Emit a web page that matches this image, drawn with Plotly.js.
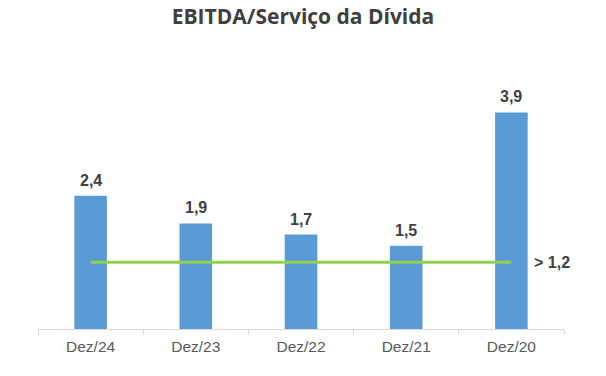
<!DOCTYPE html>
<html>
<head>
<meta charset="utf-8">
<script src="https://cdn.plot.ly/plotly-3.0.1.min.js"></script>
<style>html,body{margin:0;padding:0;background:#fff;}#chart{width:606px;height:376px;}</style>
</head>
<body>
<div id="chart"></div>
<script>
const categories = ['Dez/24', 'Dez/23', 'Dez/22', 'Dez/21', 'Dez/20'];
const values = [2.4, 1.9, 1.7, 1.5, 3.9];
const valueLabels = ['2,4', '1,9', '1,7', '1,5', '3,9'];
const threshold = [1.2, 1.2, 1.2, 1.2, 1.2];
const thresholdLabel = '> 1,2';

const labelFont = {family: 'Liberation Sans, Arial, sans-serif', size: 16, color: '#404040', weight: 'bold'};

const traces = [
  {
    type: 'bar', x: categories, y: values,
    marker: {color: '#5B9BD5'}, width: 0.31,
    hoverinfo: 'none'
  },
  {
    type: 'scatter', mode: 'lines', x: categories, y: threshold,
    line: {color: '#92D050', width: 3}, hoverinfo: 'none'
  }
];

const annotations = categories.map((c, i) => ({
  x: c, y: values[i], xref: 'x', yref: 'y', text: valueLabels[i], showarrow: false,
  xanchor: 'center', yanchor: 'bottom', yshift: 5, font: labelFont
}));
annotations.push({x: categories[categories.length - 1], y: threshold[threshold.length - 1], xref: 'x', yref: 'y',
  text: thresholdLabel, showarrow: false, xanchor: 'left', xshift: 21, font: labelFont});

const layout = {
  width: 606, height: 376,
  margin: {l: 38, r: 42, t: 68, b: 47},
  showlegend: false,
  paper_bgcolor: '#fff', plot_bgcolor: '#fff',
  title: {text: 'EBITDA/Serviço da Dívida', x: 0.5, xanchor: 'center', y: 0.955, yanchor: 'middle',
    font: {family: 'Open Sans, sans-serif', size: 21, color: '#404040', weight: 'bold'}},
  xaxis: {type: 'category', range: [-0.5, categories.length - 0.5], autorange: false,
    showline: true, linecolor: '#D9D9D9', linewidth: 1,
    ticks: 'outside', tickson: 'boundaries', ticklen: 5, tickcolor: '#D9D9D9',
    ticklabelstandoff: 3,
    showgrid: false, zeroline: false,
    tickfont: {family: 'Liberation Sans, Arial, sans-serif', size: 15.5, color: '#595959'}},
  yaxis: {range: [0, 4.7], autorange: false, visible: false, showgrid: false, zeroline: false},
  annotations: annotations
};

Plotly.newPlot('chart', traces, layout, {displayModeBar: false, staticPlot: true});
</script>
</body>
</html>
